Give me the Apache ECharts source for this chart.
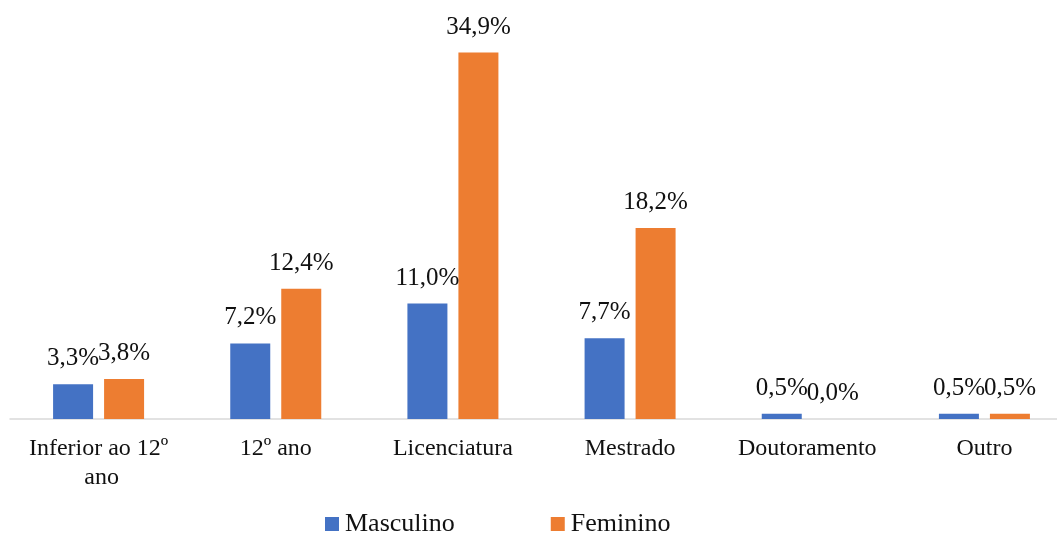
<!DOCTYPE html>
<html>
<head>
<meta charset="utf-8">
<script src="https://cdn.jsdelivr.net/npm/echarts@6/dist/echarts.min.js"></script>
<style>
html,body{margin:0;padding:0;background:#fff;}
#chart{width:1057px;height:533px;}
</style>
</head>
<body>
<div id="chart"></div>
<script>
const categories = ["Inferior ao 12º ano", "12º ano", "Licenciatura", "Mestrado", "Doutoramento", "Outro"];
const masculino = [3.3, 7.2, 11.0, 7.7, 0.5, 0.5];
const feminino = [3.8, 12.4, 34.9, 18.2, 0.0, 0.5];
const seriesNames = ["Masculino", "Feminino"];

const FONT = "'Liberation Serif', 'Times New Roman', serif";
const chart = echarts.init(document.getElementById('chart'));
const lbl = {
  show: true,
  position: 'top',
  distance: 13,
  fontFamily: FONT,
  fontSize: 25,
  color: '#111',
  formatter: p => p.value.toFixed(1).replace('.', ',') + '%'
};
chart.setOption({
  animation: false,
  textStyle: { fontFamily: FONT },
  grid: { left: 10, width: 1063, top: -1, height: 420, containLabel: false, outerBoundsMode: 'none' },
  legend: {
    top: 511, left: 325, padding: 0,
    itemWidth: 14, itemHeight: 14, itemGap: 96,
    icon: 'rect',
    textStyle: { fontFamily: FONT, fontSize: 26, color: '#111', padding: [0, 0, 0, 1] },
    data: seriesNames
  },
  xAxis: {
    type: 'category',
    data: categories,
    axisLine: { lineStyle: { color: '#d9d9d9', width: 1.5 } },
    axisTick: { show: false },
    axisLabel: {
      fontFamily: FONT, fontSize: 24, color: '#111', margin: 15,
      lineHeight: 29, width: 160, overflow: 'break', interval: 0
    }
  },
  yAxis: {
    type: 'value', min: 0, max: 40, show: false,
    splitLine: { show: false }
  },
  series: [
    { name: seriesNames[0], type: 'bar', data: masculino, barWidth: 40, barGap: '27.5%',
      itemStyle: { color: '#4472C4' }, label: lbl },
    { name: seriesNames[1], type: 'bar', data: feminino, barWidth: 40,
      itemStyle: { color: '#ED7D31' }, label: lbl }
  ]
});
</script>
</body>
</html>
